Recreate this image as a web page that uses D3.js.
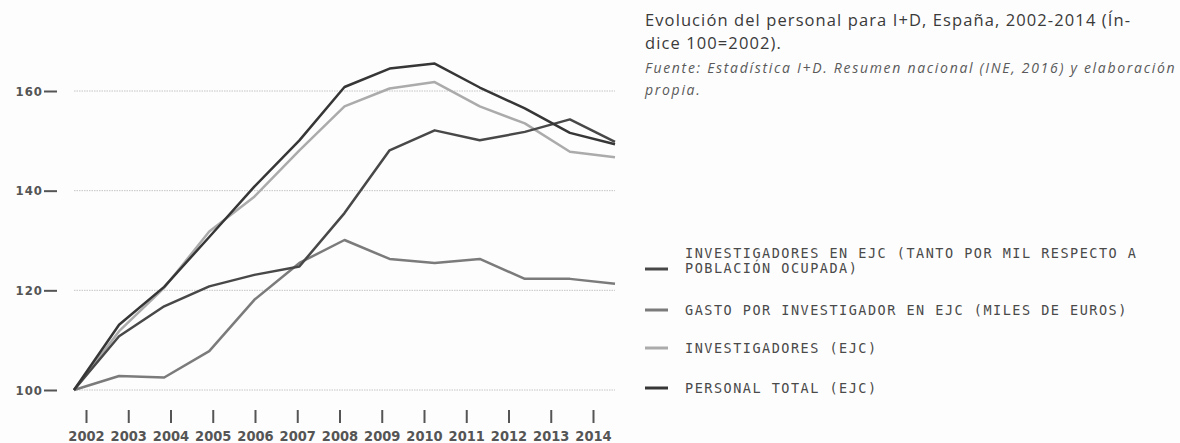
<!DOCTYPE html>
<html>
<head>
<meta charset="utf-8">
<script src="https://cdn.jsdelivr.net/npm/d3@7"></script>
<style>
  body { margin: 0; background: #fff; }
  svg { display: block; }
</style>
</head>
<body>
<div class="chart"></div>
<script>
// data (index 100 = 2002)
var years = [2002, 2003, 2004, 2005, 2006, 2007, 2008, 2009, 2010, 2011, 2012, 2013, 2014];

var personalTotal   = [100, 113.1, 120.7, 130.7, 140.8, 150.1, 160.8, 164.5, 165.5, 160.7, 156.5, 151.6, 149.3];
var investigadores  = [100, 111.8, 120.5, 131.8, 138.8, 148.1, 156.9, 160.5, 161.8, 156.9, 153.5, 147.8, 146.7];
var tantoPorMil     = [100, 110.8, 116.8, 120.8, 123.1, 124.8, 135.5, 148.1, 152.1, 150.1, 151.8, 154.3, 149.8];
var gastoPorInvest  = [100, 102.8, 102.5, 107.8, 118.1, 125.5, 130.1, 126.3, 125.5, 126.3, 122.3, 122.3, 121.3];

var yTicks = [100, 120, 140, 160];

var legendLabels = [
  ['INVESTIGADORES EN EJC (TANTO POR MIL RESPECTO A', 'POBLACIÓN OCUPADA)'],
  ['GASTO POR INVESTIGADOR EN EJC (MILES DE EUROS)'],
  ['INVESTIGADORES (EJC)'],
  ['PERSONAL TOTAL (EJC)']
];

var titleLines = ['Evolución del personal para I+D, España, 2002-2014 (Ín-', 'dice 100=2002).'];
var sourceLines = ['Fuente: Estadística I+D. Resumen nacional (INE, 2016) y elaboración', 'propia.'];

var series = [
  { values: gastoPorInvest, color: '#7b7b7b' },
  { values: investigadores, color: '#ababab' },
  { values: tantoPorMil, color: '#484848' },
  { values: personalTotal, color: '#363636' }
];
var legendColors = ['#484848', '#7b7b7b', '#ababab', '#363636'];

var width = 1180, height = 443;

var svg = d3.select('.chart').append('svg')
    .attr('width', width)
    .attr('height', height);

svg.append('rect').attr('width', width).attr('height', height).attr('fill', '#fdfdfd');

// lines and tick labels sit on slightly different spacings in the original
var x = d3.scalePoint().domain(years).range([74, 615]);
var xLabel = d3.scalePoint().domain(years).range([86, 593]);
var y = d3.scaleLinear().domain([100, 160]).range([390, 91]);

// dotted grid
svg.append('g').selectAll('line')
    .data(yTicks)
    .enter()
    .append('line')
    .attr('x1', 74)
    .attr('x2', 615)
    .attr('y1', function(d) { return y(d); })
    .attr('y2', function(d) { return y(d); })
    .attr('stroke', '#c4c4c4')
    .attr('stroke-width', 1)
    .attr('stroke-dasharray', '1.5,1');

// y axis
var yAxis = svg.append('g')
    .attr('transform', 'translate(57,0)')
    .call(d3.axisLeft(y).tickValues(yTicks).tickSize(13).tickPadding(1));
yAxis.select('.domain').remove();
yAxis.selectAll('.tick line').attr('stroke', '#555').attr('stroke-width', 2);
yAxis.selectAll('.tick text')
    .attr('fill', '#555')
    .attr('x', -14)
    .style('font-family', '"DejaVu Sans Condensed", "DejaVu Sans", sans-serif')
    .style('font-weight', 'bold')
    .style('font-size', '13px')
    .style('letter-spacing', '1px');

// x axis
var xAxis = svg.append('g')
    .attr('transform', 'translate(0,410)')
    .call(d3.axisBottom(xLabel).tickSize(13).tickPadding(5));
xAxis.select('.domain').remove();
xAxis.selectAll('.tick line').attr('stroke', '#555').attr('stroke-width', 2);
xAxis.selectAll('.tick text')
    .attr('fill', '#555')
    .attr('y', 31)
    .attr('dy', 0)
    .style('font-family', '"DejaVu Sans Condensed", "DejaVu Sans", sans-serif')
    .style('font-weight', 'bold')
    .style('font-size', '14.5px');

// lines
var line = d3.line()
    .x(function(d, i) { return x(years[i]); })
    .y(function(d) { return y(d); });

svg.append('g').selectAll('path')
    .data(series)
    .enter()
    .append('path')
    .attr('d', function(d) { return line(d.values); })
    .attr('fill', 'none')
    .attr('stroke', function(d) { return d.color; })
    .attr('stroke-width', 2.5)
    .attr('stroke-linejoin', 'round');

// title and source
var title = svg.append('g')
    .style('font-family', '"Open Sans", sans-serif');
title.selectAll('.t')
    .data(titleLines)
    .enter()
    .append('text')
    .attr('x', 645)
    .attr('y', function(d, i) { return 26 + i * 23; })
    .attr('fill', '#3a3a3a')
    .style('font-size', '16.5px')
    .style('letter-spacing', '1.1px')
    .text(function(d) { return d; });
title.selectAll('.s')
    .data(sourceLines)
    .enter()
    .append('text')
    .attr('x', 645)
    .attr('y', function(d, i) { return 73 + i * 22; })
    .attr('fill', '#5a5a5a')
    .style('font-size', '14px')
    .style('font-style', 'italic')
    .style('letter-spacing', '1.7px')
    .text(function(d) { return d; });

// legend
var legendY = [253, 310, 348, 388];
var legend = svg.append('g').selectAll('g')
    .data(legendLabels)
    .enter()
    .append('g')
    .attr('transform', function(d, i) { return 'translate(0,' + legendY[i] + ')'; });

legend.append('line')
    .attr('x1', 645)
    .attr('x2', 668)
    .attr('y1', function(d) { return d.length > 1 ? 16 : 0; })
    .attr('y2', function(d) { return d.length > 1 ? 16 : 0; })
    .attr('stroke', function(d, i) { return legendColors[i]; })
    .attr('stroke-width', 3);

legend.selectAll('text')
    .data(function(d) { return d; })
    .enter()
    .append('text')
    .attr('x', 685)
    .attr('y', function(d, i) { return 5 + i * 15; })
    .attr('fill', '#4a4a4a')
    .style('font-family', '"DejaVu Sans Mono", monospace')
    .style('font-size', '13.5px')
    .style('letter-spacing', '1.5px')
    .text(function(d) { return d; });
</script>
</body>
</html>
